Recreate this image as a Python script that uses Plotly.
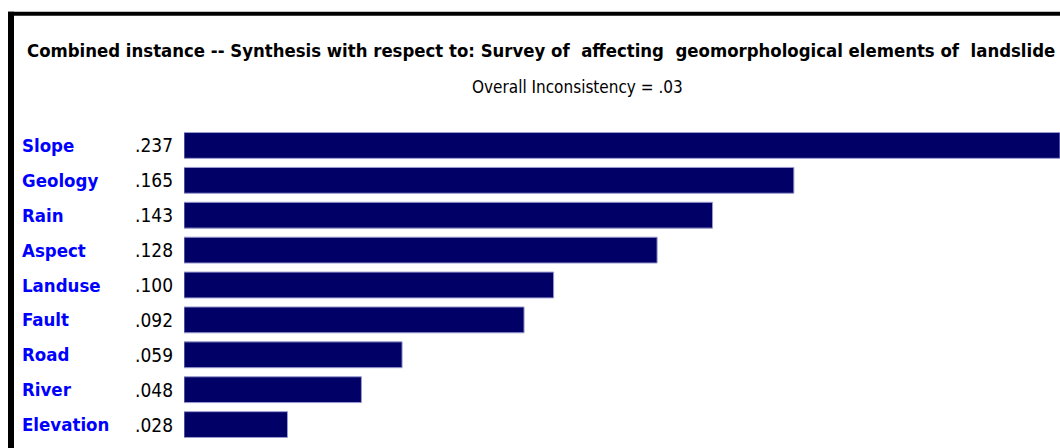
import plotly.graph_objects as go

categories = ["Slope", "Geology", "Rain", "Aspect", "Landuse", "Fault", "Road", "River", "Elevation"]
values = [0.237, 0.165, 0.143, 0.128, 0.100, 0.092, 0.059, 0.048, 0.028]
value_labels = [".237", ".165", ".143", ".128", ".100", ".092", ".059", ".048", ".028"]
title_text = "Combined instance -- Synthesis with respect to: Survey of  affecting  geomorphological elements of  landslide"
subtitle_text = "Overall Inconsistency = .03"

W, H = 1060, 448
# plot area in page coordinates
PX0, PX1, PY0, PY1 = 184, 1060, 127.5, 442.5
ML, MR, MT, MB = PX0, W - PX1, PY0, H - PY1
PW = PX1 - PX0
PH = PY1 - PY0

def px(x):
    return (x - PX0) / PW

def py(y):
    return (PY1 - y) / PH

FONT = "DejaVu Sans Condensed, Liberation Sans, sans-serif"

fig = go.Figure()
fig.add_trace(go.Bar(
    x=values, y=categories, orientation="h",
    marker=dict(color="#000066", line=dict(color="#9a9ad0", width=1)),
    width=0.74, hoverinfo="skip",
))

annotations = []
for cat, lab in zip(categories, value_labels):
    annotations.append(dict(x=px(20), xref="paper", y=cat, yref="y", text="<b>" + cat + "</b>",
                            showarrow=False, xanchor="left", yanchor="middle",
                            font=dict(family=FONT, size=18.5, color="#0000ff")))
    annotations.append(dict(x=px(133), xref="paper", y=cat, yref="y", text=lab,
                            showarrow=False, xanchor="left", yanchor="middle",
                            font=dict(family=FONT, size=19, color="#000000")))
annotations.append(dict(x=px(25), xref="paper", y=py(50), yref="paper", text="<b>" + title_text + "</b>",
                        showarrow=False, xanchor="left", yanchor="middle",
                        font=dict(family=FONT, size=18.4, color="#000000")))
annotations.append(dict(x=px(577), xref="paper", y=py(86), yref="paper", text=subtitle_text,
                        showarrow=False, xanchor="center", yanchor="middle",
                        font=dict(family=FONT, size=17, color="#000000")))

shapes = [
    dict(type="rect", xref="paper", yref="paper", x0=px(8), x1=px(1062), y0=py(15), y1=py(11),
         fillcolor="#000000", line=dict(width=0), layer="above"),
    dict(type="rect", xref="paper", yref="paper", x0=px(8), x1=px(14), y0=py(450), y1=py(11),
         fillcolor="#000000", line=dict(width=0), layer="above"),
]

fig.update_layout(
    width=W, height=H,
    margin=dict(l=ML, r=MR, t=MT, b=MB, pad=0),
    paper_bgcolor="#ffffff", plot_bgcolor="#ffffff",
    showlegend=False,
    xaxis=dict(range=[0, 0.237], visible=False, fixedrange=True),
    yaxis=dict(categoryorder="array", categoryarray=categories[::-1], range=[-0.5, 8.5],
               visible=False, fixedrange=True),
    annotations=annotations, shapes=shapes,
)

fig.write_html("out.html", config={"displayModeBar": False},
               post_script="document.body.style.margin='0';document.body.style.overflow='hidden';")
